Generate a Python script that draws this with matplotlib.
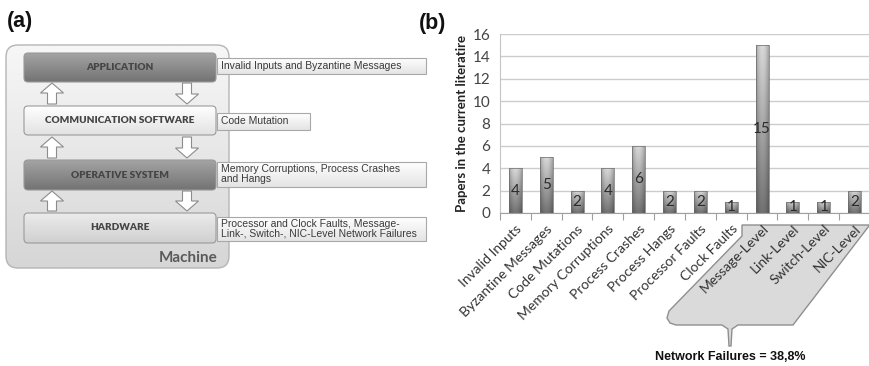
import numpy as np
import matplotlib
matplotlib.use("Agg")
import matplotlib.pyplot as plt
from matplotlib.patches import FancyBboxPatch, Polygon
from matplotlib.colors import to_rgb

# ---- data -------------------------------------------------------------
categories = ["Invalid Inputs", "Byzantine Messages", "Code Mutations",
              "Memory Corruptions", "Process Crashes", "Process Hangs",
              "Processor Faults", "Clock Faults", "Message-Level",
              "Link-Level", "Switch-Level", "NIC-Level"]
papers = [4, 5, 2, 4, 6, 2, 2, 1, 15, 1, 1, 2]
y_ticks = [0, 2, 4, 6, 8, 10, 12, 14, 16]

layers = ["APPLICATION", "COMMUNICATION SOFTWARE", "OPERATIVE SYSTEM", "HARDWARE"]
layer_faults = ["Invalid Inputs and Byzantine Messages",
                "Code Mutation",
                "Memory Corruptions, Process Crashes\nand Hangs",
                "Processor and Clock Faults, Message-\nLink-, Switch-, NIC-Level Network Failures"]
network_note = "Network Failures = 38,8%"

W, H = 870, 366
fig = plt.figure(figsize=(W / 100, H / 100), dpi=100)

# background canvas in pixel units (y grows downward)
bg = fig.add_axes([0, 0, 1, 1])
bg.set_xlim(0, W)
bg.set_ylim(H, 0)
bg.axis("off")


def gradient_fill(ax, patch, top, bottom, x0, x1, y0, y1, z):
    c0, c1 = np.array(to_rgb(top)), np.array(to_rgb(bottom))
    t = np.linspace(0, 1, 64)[:, None, None]
    img = c0 * (1 - t) + c1 * t
    im = ax.imshow(img, extent=(x0, x1, y1, y0), origin="upper",
                   aspect="auto", zorder=z, interpolation="bilinear")
    im.set_clip_path(patch)
    return im


def rbox(x0, y0, x1, y1, top, bottom, edge, r=4, z=2, lw=0.8):
    p = FancyBboxPatch((x0, y0), x1 - x0, y1 - y0,
                       boxstyle=f"round,pad=0,rounding_size={r}",
                       facecolor="none", edgecolor=edge, lw=lw, zorder=z + 0.5)
    bg.add_patch(p)
    gradient_fill(bg, p, top, bottom, x0, x1, y0, y1, z)
    return p


# ---- panel (a): layered machine diagram --------------------------------
bg.text(7, 21, "(a)", fontsize=15.5, fontweight="bold", family="Liberation Sans",
        va="center", ha="left", color="#111111")
bg.text(419, 23, "(b)", fontsize=15.5, fontweight="bold", family="Liberation Sans",
        va="center", ha="left", color="#111111")

rbox(6, 45, 229, 268, "#f7f7f7", "#d6d6d6", "#b5b5b5", r=12, z=1, lw=1.0)
bg.text(218, 258, "Machine", fontsize=11, fontweight="bold", family="Lato",
        color="#5a5a5a", ha="right", va="center")

layer_rows = [(53, 82), (106, 135), (160, 190), (213, 243)]
layer_cols = [("#a4a4a4", "#737373"), ("#ffffff", "#e2e2e2"),
              ("#a4a4a4", "#737373"), ("#ececec", "#cfcfcf")]
for name, (y0, y1), (ct, cb) in zip(layers, layer_rows, layer_cols):
    rbox(24, y0, 216, y1, ct, cb, "#9a9a9a", r=4, z=2)
    bg.text(120, (y0 + y1) / 2, name, fontsize=7.2, fontweight="heavy",
            family="Lato", color="#454545", ha="center", va="center", zorder=5)

label_rows = [(58, 74, 426), (113, 130, 310), (162, 187, 426), (217, 241, 426)]
for txt, (y0, y1, x1) in zip(layer_faults, label_rows):
    p = Polygon([(217, y0), (x1, y0), (x1, y1), (217, y1)], closed=True,
                facecolor="none", edgecolor="#a8a8a8", lw=0.8, zorder=3.5)
    bg.add_patch(p)
    gradient_fill(bg, p, "#ffffff", "#e4e4e4", 217, x1, y0, y1, 3)
    bg.text(221, (y0 + y1) / 2, txt, fontsize=7.5, family="Liberation Sans",
            color="#3a3a3a", ha="left", va="center", linespacing=1.0, zorder=5)


def block_arrow(cx, ya, yb, up=True):
    hw, sw, hl = 11.5, 4.5, 10
    if up:
        pts = [(cx, ya), (cx + hw, ya + hl), (cx + sw, ya + hl), (cx + sw, yb),
               (cx - sw, yb), (cx - sw, ya + hl), (cx - hw, ya + hl)]
    else:
        pts = [(cx, yb), (cx + hw, yb - hl), (cx + sw, yb - hl), (cx + sw, ya),
               (cx - sw, ya), (cx - sw, yb - hl), (cx - hw, yb - hl)]
    bg.add_patch(Polygon(pts, closed=True, facecolor="white",
                         edgecolor="#8c8c8c", lw=0.8, zorder=2.5))


for ya, yb in [(83, 104), (137, 158), (191, 211)]:
    block_arrow(52, ya, yb, up=True)
    block_arrow(187, ya, yb, up=False)

# grey callout grouping the network failure categories
callout = [(742, 225), (742, 236), (669, 311), (667, 318), (670, 323),
           (676, 325), (722, 325), (728, 329), (729, 346), (731, 346),
           (732, 329), (738, 325), (793, 325), (872, 222), (872, 225)]
bg.add_patch(Polygon(callout, closed=True, facecolor="#dadada",
                     edgecolor="#8f8f8f", lw=1.0, zorder=1))
bg.text(730, 357, network_note, fontsize=9, fontweight="bold",
        family="Liberation Sans", color="#111111", ha="center", va="center")

# ---- panel (b): bar chart ---------------------------------------------
ax = fig.add_axes([500 / W, (H - 213) / H, 370 / W, (213 - 34) / H])
ax.patch.set_alpha(0)
x = np.arange(len(categories))
bars = ax.bar(x, papers, width=0.42, facecolor="none", edgecolor="#6a6a6a",
              lw=0.5, zorder=3)
for rect, v in zip(bars, papers):
    x0, w = rect.get_x(), rect.get_width()
    h = rect.get_height()
    vert = np.linspace(0.85, 0.45, 64)[:, None]
    horiz = 1 - 0.25 * np.abs(np.linspace(-1, 1, 32))[None, :] ** 2
    img = np.clip(vert * horiz, 0, 1)
    im = ax.imshow(img, cmap="gray", vmin=0, vmax=1, extent=(x0, x0 + w, 0, h),
                   origin="upper", aspect="auto", zorder=2,
                   interpolation="bilinear")
    im.set_clip_path(rect)
    ax.text(rect.get_x() + w / 2, h / 2, str(v), ha="center", va="center",
            fontsize=11, family="Lato", color="#2a2a2a", zorder=4)

ax.set_xlim(-0.5, len(categories) - 0.5)
ax.set_ylim(0, 16)
ax.set_yticks(y_ticks)
ax.set_yticklabels([str(t) for t in y_ticks], fontsize=11, family="Lato",
                   color="#444444")
ax.yaxis.grid(True, color="#cccccc", lw=1.0, zorder=0)
ax.set_axisbelow(True)
ax.tick_params(axis="y", length=0, pad=7)

ax.set_xticks(x)
ax.set_xticklabels(categories, rotation=45, ha="right", rotation_mode="anchor",
                   fontsize=10, family="Lato", color="#333333")
ax.tick_params(axis="x", which="major", length=0, pad=7)
ax.set_xticks(np.arange(-0.5, len(categories)), minor=True)
ax.tick_params(axis="x", which="minor", length=5, color="#a0a0a0", width=0.8)

for s in ("top", "right"):
    ax.spines[s].set_visible(False)
ax.spines["left"].set_color("#c4c4c4")
ax.spines["bottom"].set_color("#a0a0a0")

ax.set_ylabel("Papers in the current literatire", fontsize=9.5,
              fontweight="bold", family="Lato", color="#222222", labelpad=3)

fig.savefig("out.png", dpi=100)
